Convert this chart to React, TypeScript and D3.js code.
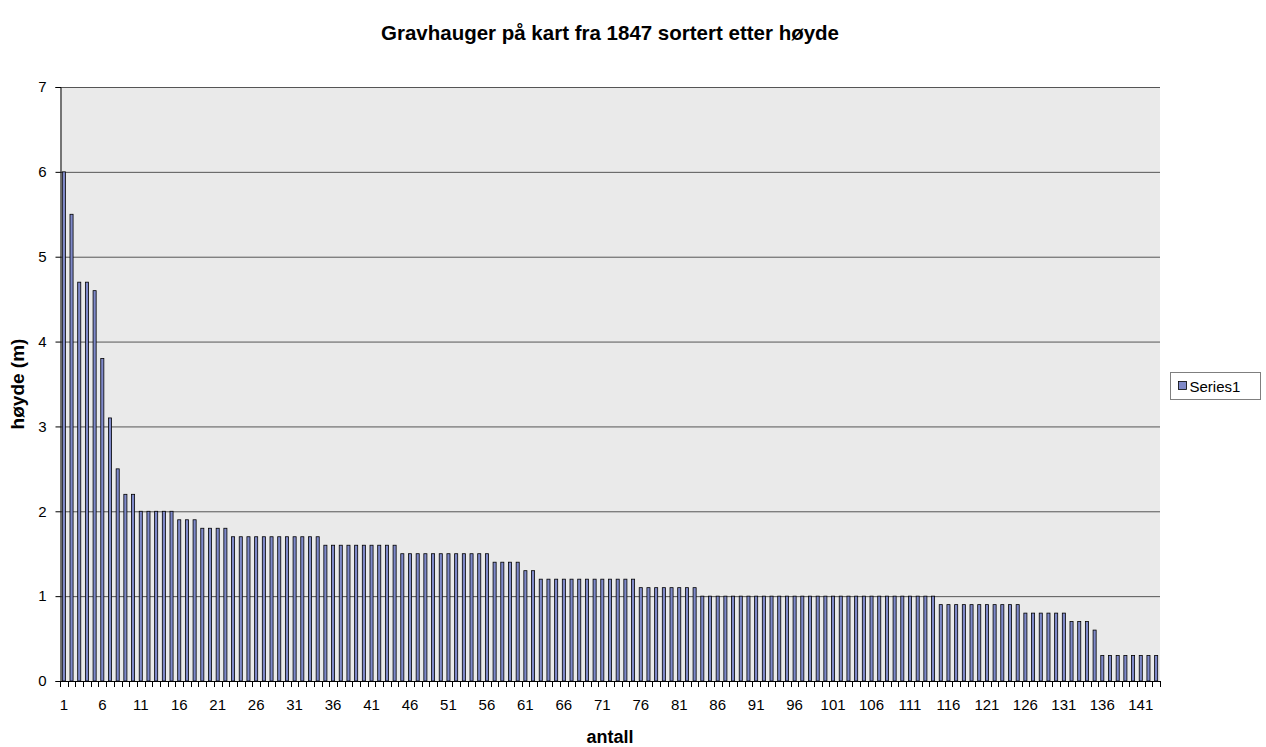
import * as d3 from "d3";
import { useEffect, useRef } from "react";

// heights (m) of each grave mound, sorted descending
const heights: number[] = [
  6, 5.5, 4.7, 4.7, 4.6, 3.8, 3.1, 2.5, 2.2, 2.2,
  2, 2, 2, 2, 2, 1.9, 1.9, 1.9, 1.8, 1.8,
  1.8, 1.8, 1.7, 1.7, 1.7, 1.7, 1.7, 1.7, 1.7, 1.7,
  1.7, 1.7, 1.7, 1.7, 1.6, 1.6, 1.6, 1.6, 1.6, 1.6,
  1.6, 1.6, 1.6, 1.6, 1.5, 1.5, 1.5, 1.5, 1.5, 1.5,
  1.5, 1.5, 1.5, 1.5, 1.5, 1.5, 1.4, 1.4, 1.4, 1.4,
  1.3, 1.3, 1.2, 1.2, 1.2, 1.2, 1.2, 1.2, 1.2, 1.2,
  1.2, 1.2, 1.2, 1.2, 1.2, 1.1, 1.1, 1.1, 1.1, 1.1,
  1.1, 1.1, 1.1, 1, 1, 1, 1, 1, 1, 1,
  1, 1, 1, 1, 1, 1, 1, 1, 1, 1,
  1, 1, 1, 1, 1, 1, 1, 1, 1, 1,
  1, 1, 1, 1, 0.9, 0.9, 0.9, 0.9, 0.9, 0.9,
  0.9, 0.9, 0.9, 0.9, 0.9, 0.8, 0.8, 0.8, 0.8, 0.8,
  0.8, 0.7, 0.7, 0.7, 0.6, 0.3, 0.3, 0.3, 0.3, 0.3,
  0.3, 0.3, 0.3,
];
const categories: string[] = heights.map((_, i) => String(i + 1));
const yTicks: number[] = [0, 1, 2, 3, 4, 5, 6, 7];

const title = "Gravhauger på kart fra 1847 sortert etter høyde";
const xTitle = "antall";
const yTitle = "høyde (m)";
const seriesName = "Series1";

const font = "Arial, 'Liberation Sans', sans-serif";

const App = () => {
  const ref = useRef<SVGSVGElement | null>(null);

  useEffect(() => {
    const svg = d3.select(ref.current);
    svg.selectAll("*").remove();

    const left = 60,
      right = 1160,
      top = 87,
      bottom = 681;

    const x = d3.scaleBand().domain(categories).range([left, right]).padding(0);
    const y = d3.scaleLinear().domain([0, 7]).range([bottom, top]);

    // plot area
    svg
      .append("rect")
      .attr("x", left)
      .attr("y", top)
      .attr("width", right - left)
      .attr("height", bottom - top)
      .attr("fill", "#eaeaea");

    // grid
    svg
      .append("g")
      .selectAll("line")
      .data(yTicks.filter((t) => t > 0))
      .enter()
      .append("line")
      .attr("x1", left)
      .attr("x2", right)
      .attr("y1", (d) => y(d) + 0.5)
      .attr("y2", (d) => y(d) + 0.5)
      .attr("stroke", "#555")
      .attr("stroke-width", 1);

    // bars
    const barW = x.bandwidth() / 2.5;
    svg
      .append("g")
      .selectAll("rect")
      .data(heights)
      .enter()
      .append("rect")
      .attr("x", (_, i) => x(categories[i])! + (x.bandwidth() - barW) / 2)
      .attr("y", (d) => y(d))
      .attr("width", barW)
      .attr("height", (d) => bottom - y(d))
      .attr("fill", "#7f89c9")
      .attr("stroke", "#000")
      .attr("stroke-width", 0.8);

    // y axis
    const yAxis = svg
      .append("g")
      .attr("transform", `translate(${left + 0.5},0)`)
      .call(d3.axisLeft(y).tickValues(yTicks).tickSize(5).tickPadding(9).tickFormat(d3.format("d")));
    yAxis.select(".domain").attr("stroke", "#000");
    yAxis.selectAll("line").attr("stroke", "#000");
    yAxis
      .selectAll("text")
      .attr("font-family", font)
      .attr("font-size", 15)
      .attr("fill", "#000");

    // x axis: base line, boundary ticks, labels every 5
    const xg = svg.append("g");
    xg.append("line")
      .attr("x1", left)
      .attr("x2", right)
      .attr("y1", bottom + 0.5)
      .attr("y2", bottom + 0.5)
      .attr("stroke", "#000");
    const edges = categories.map((c) => x(c)!).concat([right]);
    xg.selectAll(".tick")
      .data(edges)
      .enter()
      .append("line")
      .attr("x1", (d) => Math.round(d) + 0.5)
      .attr("x2", (d) => Math.round(d) + 0.5)
      .attr("y1", bottom)
      .attr("y2", bottom + 6)
      .attr("stroke", "#000");
    xg.selectAll("text")
      .data(categories.filter((_, i) => i % 5 === 0))
      .enter()
      .append("text")
      .attr("x", (d) => x(d)! + x.bandwidth() / 2)
      .attr("y", bottom + 29)
      .attr("text-anchor", "middle")
      .attr("font-family", font)
      .attr("font-size", 15)
      .text((d) => d);

    // titles
    svg
      .append("text")
      .attr("x", 610)
      .attr("y", 40)
      .attr("text-anchor", "middle")
      .attr("font-family", font)
      .attr("font-size", 20.5)
      .attr("font-weight", "bold")
      .text(title);
    svg
      .append("text")
      .attr("x", 610)
      .attr("y", 743)
      .attr("text-anchor", "middle")
      .attr("font-family", font)
      .attr("font-size", 18)
      .attr("font-weight", "bold")
      .text(xTitle);
    svg
      .append("text")
      .attr("transform", `translate(24,${(top + bottom) / 2}) rotate(-90)`)
      .attr("text-anchor", "middle")
      .attr("font-family", font)
      .attr("font-size", 19)
      .attr("font-weight", "bold")
      .text(yTitle);

    // legend
    const lg = svg.append("g").attr("transform", "translate(1170.5,372.5)");
    lg.append("rect")
      .attr("width", 90)
      .attr("height", 27)
      .attr("fill", "#fff")
      .attr("stroke", "#7f7f7f");
    lg.append("rect")
      .attr("x", 8)
      .attr("y", 9)
      .attr("width", 8)
      .attr("height", 8)
      .attr("fill", "#7f89c9")
      .attr("stroke", "#000")
      .attr("stroke-width", 0.8);
    lg.append("text")
      .attr("x", 19)
      .attr("y", 19)
      .attr("font-family", font)
      .attr("font-size", 15)
      .text(seriesName);
  }, []);

  return (
    <svg
      ref={ref}
      width={1266}
      height={747}
      style={{ position: "absolute", left: 0, top: 0, background: "#fff" }}
    />
  );
};

export default App;
